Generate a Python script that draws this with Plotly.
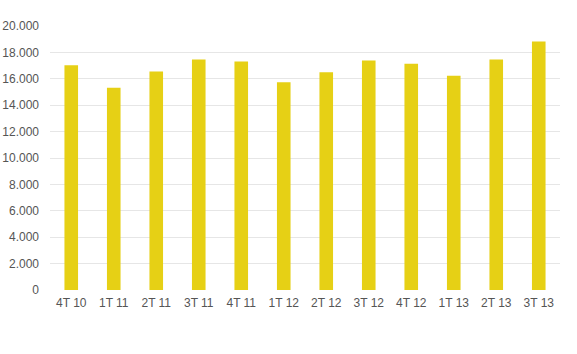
import plotly.graph_objects as go

categories = ["4T 10", "1T 11", "2T 11", "3T 11", "4T 11", "1T 12",
              "2T 12", "3T 12", "4T 12", "1T 13", "2T 13", "3T 13"]
values = [17030, 15320, 16550, 17460, 17310, 15740,
          16500, 17390, 17140, 16230, 17460, 18830]
y_ticks = [0, 2000, 4000, 6000, 8000, 10000, 12000, 14000, 16000, 18000, 20000]
grid_ticks = [2000, 4000, 6000, 8000, 10000, 12000, 14000, 16000, 18000]

fig = go.Figure()
fig.add_trace(go.Bar(x=categories, y=values, marker=dict(color="#E6D015", line=dict(width=0)),
                     hoverinfo="x+y", cliponaxis=False))
# invisible trace to carry the gridline axis
fig.add_trace(go.Scatter(x=categories, y=values, yaxis="y2", mode="lines",
                         line=dict(width=0), opacity=0, hoverinfo="skip", showlegend=False))

fig.update_layout(
    width=577, height=354,
    margin=dict(l=50, r=17, t=26, b=64),
    paper_bgcolor="white", plot_bgcolor="white",
    separators=",.",
    showlegend=False,
    bargap=0.68,
    font=dict(family="Liberation Sans, Arial, sans-serif", size=12, color="#555555"),
    xaxis=dict(range=[-0.5, len(categories) - 0.5], showgrid=False, showline=False,
               zeroline=False, ticks="", automargin=False, ticklabelstandoff=4,
               tickfont=dict(size=12, color="#555555")),
    yaxis=dict(range=[0, 20000], tickvals=y_ticks, tickformat=",d",
               showgrid=False, zeroline=False, showline=False, ticks="",
               automargin=False, ticklabelstandoff=10,
               tickfont=dict(size=12, color="#555555")),
    yaxis2=dict(range=[0, 20000], overlaying="y", side="left", tickvals=grid_ticks,
                showticklabels=False, showgrid=True, gridcolor="#E6E6E6", gridwidth=1,
                zeroline=False, showline=False, ticks="", automargin=False),
)

fig.write_html("out.html")
